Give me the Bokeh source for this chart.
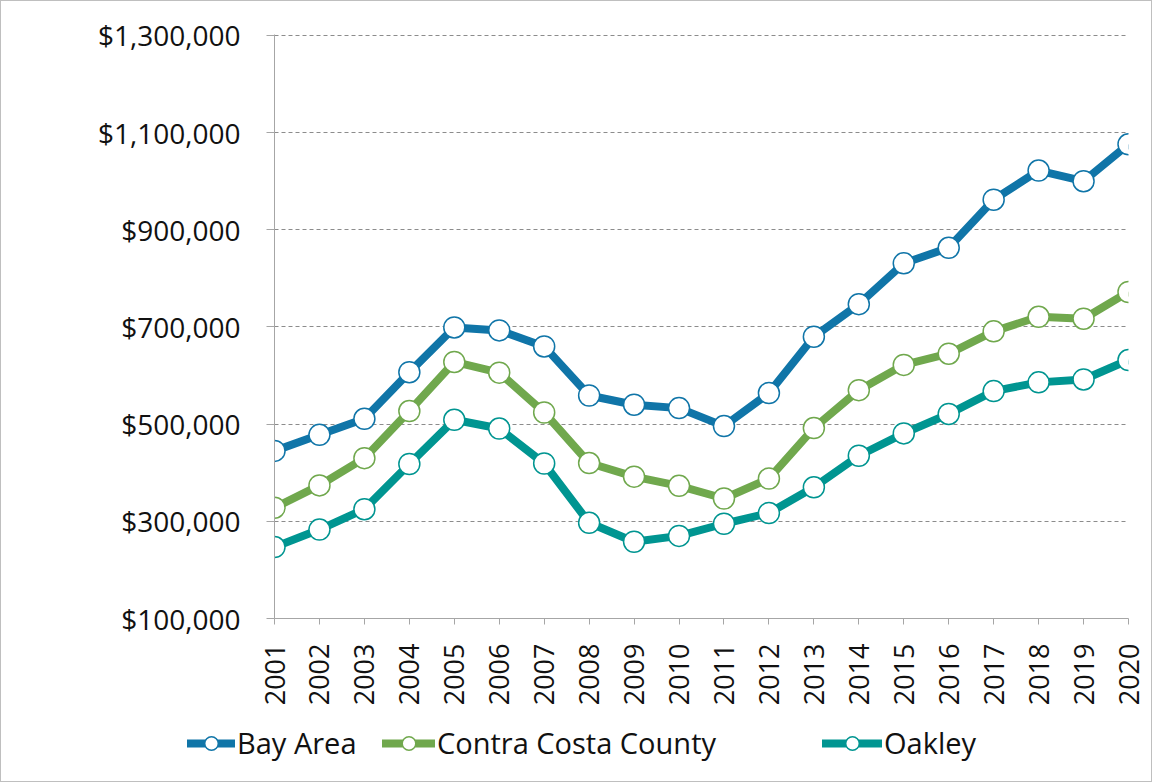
import math
from bokeh.plotting import figure
from bokeh.layouts import column
from bokeh.models import (FixedTicker, NumeralTickFormatter, Legend, LegendItem,
                          Range1d, ColumnDataSource)
from bokeh.embed import file_html
from bokeh.resources import INLINE

years = list(range(2001, 2021))
bay_area = [445000, 478000, 511000, 607000, 699000, 693000, 660000, 559000, 540000, 533000,
            496000, 564000, 680000, 747000, 831000, 863000, 962000, 1022000, 1000000, 1076000]
contra_costa = [328000, 374000, 430000, 527000, 628000, 606000, 524000, 420000, 392000, 373000,
                347000, 388000, 492000, 570000, 622000, 645000, 691000, 721000, 717000, 772000]
oakley = [247000, 283000, 325000, 418000, 509000, 491000, 419000, 297000, 258000, 270000,
          295000, 317000, 370000, 435000, 481000, 521000, 568000, 586000, 592000, 632000]
series_names = ["Bay Area", "Contra Costa County", "Oakley"]
series_colors = ["#1075A8", "#70A84D", "#009591"]
y_ticks = [100000, 300000, 500000, 700000, 900000, 1100000, 1300000]

FONT = "Open Sans"
W = 1150

p = figure(width=W, height=712, output_backend="svg", toolbar_location=None,
           x_range=Range1d(2001, 2020), y_range=Range1d(100000, 1302000),
           min_border_left=273, min_border_right=W - 273 - 854, min_border_top=33,
           min_border_bottom=95)
p.frame_align = False
p.outline_line_color = None
p.background_fill_color = "white"
p.border_fill_color = "white"

# grid
p.xgrid.grid_line_color = None
p.ygrid.grid_line_color = "#8c8c8c"
p.ygrid.grid_line_dash = "4 3"
p.ygrid.grid_line_width = 1
p.ygrid.ticker = FixedTicker(ticks=y_ticks)

# y axis
p.yaxis.ticker = FixedTicker(ticks=y_ticks)
p.yaxis.formatter = NumeralTickFormatter(format="$0,0")
p.yaxis.axis_line_color = "#a6a6a6"
p.yaxis.major_tick_line_color = "#a6a6a6"
p.yaxis.major_tick_out = 8
p.yaxis.major_tick_in = 0
p.yaxis.minor_tick_line_color = None
p.yaxis.major_label_text_font = FONT
p.yaxis.major_label_text_font_size = "28px"
p.yaxis.major_label_text_color = "#111111"
p.yaxis.major_label_standoff = 26

# x axis
p.xaxis.ticker = FixedTicker(ticks=years)
p.xaxis.major_label_overrides = {y: str(y) for y in years}
p.xaxis.axis_line_color = "#a6a6a6"
p.xaxis.major_tick_line_color = "#a6a6a6"
p.xaxis.major_tick_out = 6
p.xaxis.major_tick_in = 0
p.xaxis.minor_tick_line_color = None
p.xaxis.major_label_orientation = math.pi / 2
p.xaxis.major_label_text_font = FONT
p.xaxis.major_label_text_font_size = "27px"
p.xaxis.major_label_text_color = "#111111"
p.xaxis.major_label_standoff = 19

series_vals = [bay_area, contra_costa, oakley]
for vals, col in zip(series_vals, series_colors):
    src = ColumnDataSource(dict(x=years, y=vals))
    p.line("x", "y", source=src, line_color=col, line_width=8, line_join="round")
    p.scatter("x", "y", source=src, size=21, fill_color="white", line_color=col,
              line_width=1.5)

# legend strip below the chart (its glyph renderers lie outside its visible frame)
lf = figure(width=W, height=68, output_backend="svg", toolbar_location=None,
            x_range=Range1d(0, 1), y_range=Range1d(0, 1),
            min_border_left=0, min_border_right=0, min_border_top=0, min_border_bottom=0)
lf.frame_align = False
lf.axis.visible = False
lf.grid.visible = False
lf.outline_line_color = None
lf.background_fill_color = "white"
lf.border_fill_color = "white"

legend_x = [186, 381, 821]
glyph_w = [48, 53, 60]
for name, vals, col, lx, gw in zip(series_names, series_vals, series_colors, legend_x, glyph_w):
    src = ColumnDataSource(dict(x=years, y=vals))
    ln = lf.line("x", "y", source=src, line_color=col, line_width=8, line_cap="round")
    sc = lf.scatter("x", "y", source=src, size=16, fill_color="white", line_color=col,
                    line_width=1.5)
    lg = Legend(items=[LegendItem(label=name, renderers=[ln, sc])],
                location=(lx, 19), orientation="horizontal",
                border_line_color=None, background_fill_alpha=0,
                label_text_font=FONT, label_text_font_size="29px",
                label_text_color="#111111", glyph_width=gw, glyph_height=34,
                label_standoff=2, padding=0, margin=0)
    lf.add_layout(lg, "center")

layout = column(p, lf, spacing=0)
layout.styles = {"border": "1px solid #bfbfbf"}

open("out.html", "w").write(file_html(layout, INLINE))
